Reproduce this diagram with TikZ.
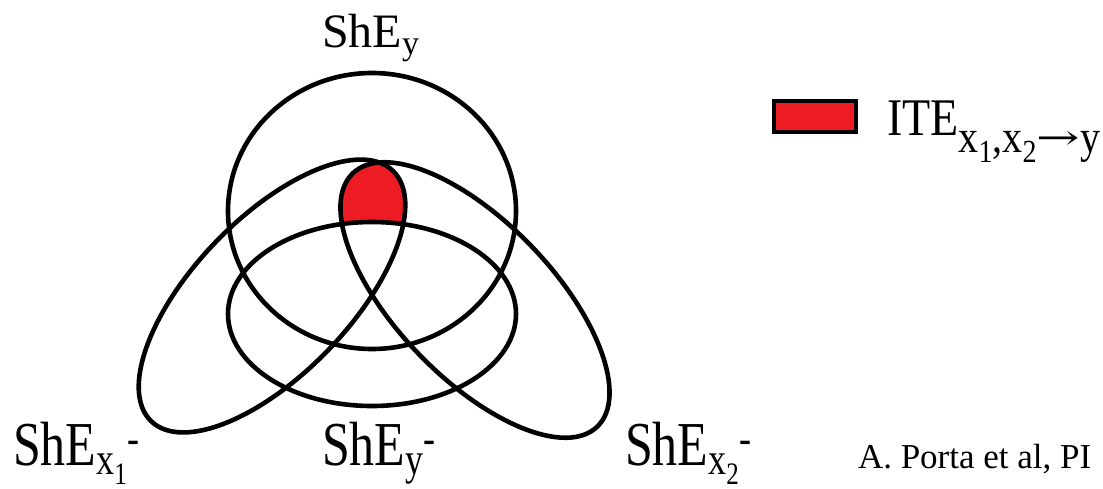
\documentclass[tikz,border=0pt]{standalone}
\usepackage{amsmath}
\usepackage{graphicx}
\usepackage{fontspec}
\setmainfont{Liberation Serif}
\newfontfamily\arrowfont{DejaVu Serif}
\DeclareMathSizes{50}{50}{36}{25}
\DeclareMathSizes{48}{48}{34}{24}
\definecolor{itered}{HTML}{ED1C24}
\newcommand{\subA}[1]{\raisebox{-15pt}{\fontsize{40}{44}\selectfont #1}}
\newcommand{\subB}[1]{\raisebox{-9pt}{\fontsize{28}{30}\selectfont #1}}
\begin{document}
\begin{tikzpicture}[x=1pt,y=-1pt,
  ring/.style={draw=black, line width=4.6pt},
  lbl/.style={anchor=base west, inner sep=0pt, outer sep=0pt}]
\useasboundingbox (0,0) rectangle (1103,488);
% red region (inside both tilted ellipses, above the middle ellipse)
\begin{scope}
  \clip[rotate around={46:(272,296)}] (272,296) ellipse [x radius=174, y radius=78];
  \clip[rotate around={-46:(475,300)}] (475,300) ellipse [x radius=176, y radius=78];
  \clip (0,0) rectangle (1103,226);
  \fill[itered, even odd rule] (0,0) rectangle (1103,488) (372,314) ellipse [x radius=144, y radius=92];
\end{scope}
% outlines
\draw[ring] (372,211) ellipse [x radius=144, y radius=138];
\draw[ring] (372,314) ellipse [x radius=144, y radius=92];
\draw[ring, rotate around={46:(272,296)}] (272,296) ellipse [x radius=174, y radius=78];
\draw[ring, rotate around={-46:(475,300)}] (475,300) ellipse [x radius=176, y radius=78];
% labels
\node[lbl] (shey) at (322,47) {\fontsize{48}{52}\selectfont ShE$_{\text{y}}$};
\node[lbl] (shex1) at (13,465) {\scalebox{1}[1.25]{\fontsize{50}{54}\selectfont ShE$_{\text{x}_{\text{1}}}$\textsuperscript{-}}};
\node[lbl] (sheym) at (322,465) {\scalebox{1}[1.25]{\fontsize{50}{54}\selectfont ShE$_{\text{y}}$\textsuperscript{-}}};
\node[lbl] (shex2) at (625,465) {\scalebox{1}[1.25]{\fontsize{50}{54}\selectfont ShE$_{\text{x}_{\text{2}}}$\textsuperscript{-}}};
\node[lbl] (cite) at (858,468) {\fontsize{35}{40}\selectfont A. Porta et al, PI};
% legend
\node[draw=black, line width=4pt, fill=itered, minimum width=82pt, minimum height=31pt, inner sep=0pt] (legbox) at (815,116.5) {};
\node[lbl] (ite) at (887,135) {\scalebox{1}[1.15]{\fontsize{46}{50}\selectfont ITE\subA{x\subB{1},x\subB{2}\raisebox{2pt}{\scalebox{1.3}[0.75]{\arrowfont →}}y}}};
\end{tikzpicture}
\end{document}
